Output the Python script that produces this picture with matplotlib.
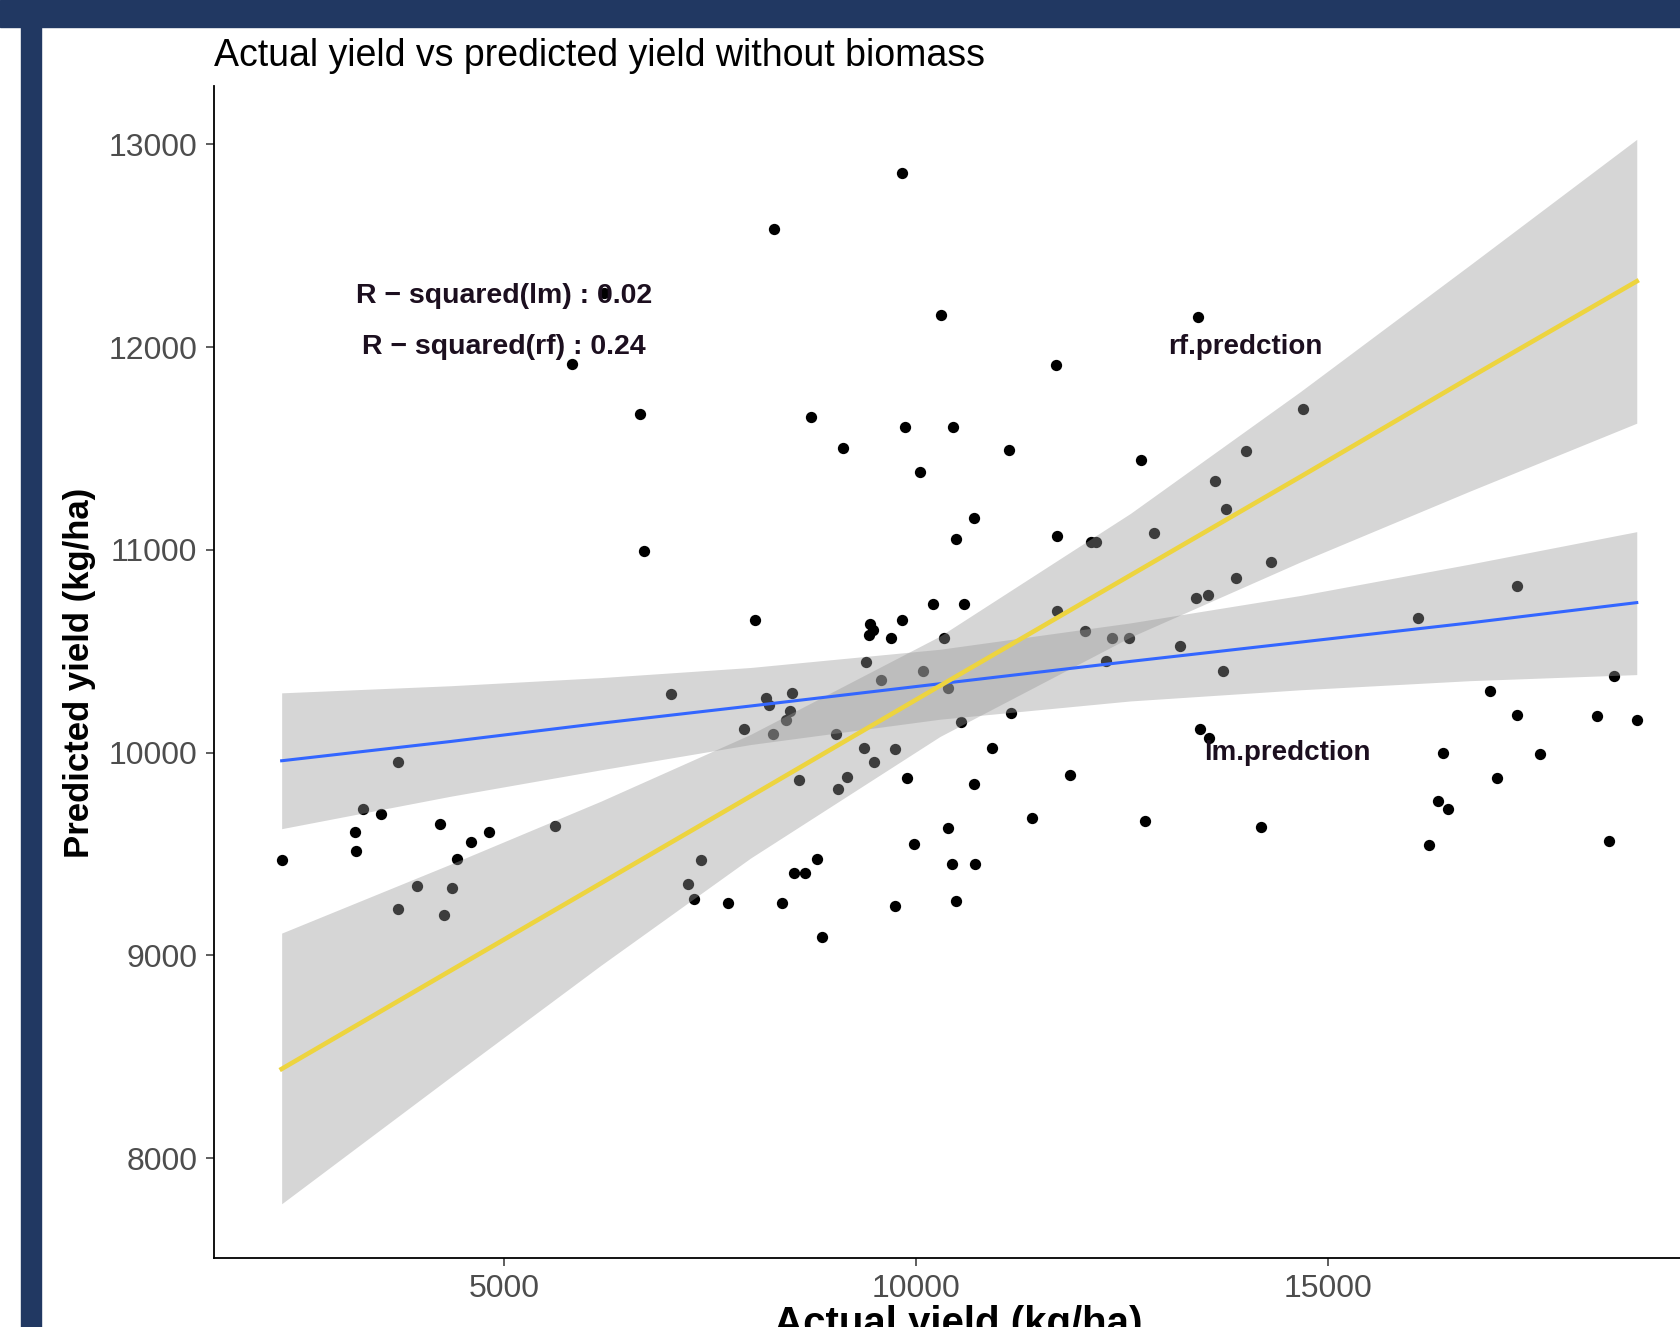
import matplotlib
matplotlib.use("Agg")
import matplotlib.pyplot as plt
from matplotlib.patches import Rectangle

plt.rcParams["font.family"] = ["Liberation Sans", "DejaVu Sans"]

actual_yield = [
	2301, 3187, 3199, 3284, 3502, 3708, 3708, 3939, 4218, 4266,
	4363, 4424, 4594, 4812, 5613, 5824, 6214, 6644, 6692, 7023,
	7226, 7307, 7383, 7711, 8044, 8269, 7911, 8172, 8220, 8499,
	8463, 8426, 8257, 8372, 8523, 8651, 8578, 8724, 8802, 8863,
	9033, 9057, 9114, 9166, 9397, 9445, 9476, 9433, 9373, 9494,
	9579, 9700, 9749, 9749, 9829, 9827, 9869, 9894, 9979, 10051,
	10081, 10209, 10297, 10337, 10391, 10391, 10440, 10453, 10482, 10488,
	10543, 10585, 10701, 10707, 10719, 10925, 11131, 11152, 11405, 11701,
	11713, 11713, 11865, 12045, 12120, 12180, 12298, 12381, 12578, 12732,
	12781, 12884, 13197, 13393, 13419, 13442, 13545, 13549, 13624, 13727,
	13757, 13876, 13997, 14185, 14311, 14691, 16096, 16225, 16329, 16399,
	16452, 16962, 17048, 17296, 17296, 17572, 18259, 18412, 18469, 18745,
]
predicted_yield = [
	9469, 9607, 9513, 9720, 9696, 9952, 9227, 9343, 9646, 9200,
	9333, 9476, 9557, 9609, 9639, 11919, 12268, 11670, 10996, 10288,
	9350, 9279, 9469, 9259, 10653, 12585, 10115, 10268, 10233, 10293,
	10204, 10159, 10090, 9259, 9404, 9404, 9863, 11654, 9474, 9089,
	10090, 9819, 11501, 9878, 10446, 10633, 10606, 10579, 10021, 9952,
	10357, 10564, 10016, 9242, 12861, 10655, 11607, 9873, 9548, 11384,
	10401, 10734, 12157, 10564, 10320, 9627, 9449, 11607, 11052, 9269,
	10150, 10734, 11159, 9846, 9449, 10021, 11491, 10196, 9676, 11914,
	11067, 10697, 9890, 10602, 11041, 11041, 10450, 10565, 10565, 11445,
	9665, 11085, 10528, 10763, 12147, 10115, 10780, 10073, 11338, 10403,
	11201, 10861, 11490, 9633, 10941, 11696, 10665, 9543, 9762, 9998,
	9720, 10305, 9877, 10824, 10187, 9991, 10180, 9566, 10376, 10161,
]

# fitted lines and 95% bands, sampled along x
fit_x = [2300, 4350, 6170, 7990, 10290, 12600, 14660, 16720, 18745]
rf_fit = [8440, 8925, 9355, 9785, 10330, 10875, 11360, 11850, 12325]
rf_upper = [9110, 9450, 9760, 10090, 10575, 11180, 11780, 12405, 13025]
rf_lower = [7775, 8400, 8950, 9480, 10080, 10570, 10940, 11290, 11625]
lm_fit = [9960, 10055, 10145, 10230, 10340, 10450, 10545, 10640, 10740]
lm_upper = [10295, 10330, 10370, 10420, 10510, 10640, 10775, 10930, 11090]
lm_lower = [9625, 9785, 9915, 10040, 10165, 10255, 10310, 10355, 10385]

x_ticks = [5000, 10000, 15000]
y_ticks = [8000, 9000, 10000, 11000, 12000, 13000]

navy = "#213862"
text_dark = "#1c0f1f"

fig = plt.figure(figsize=(16.81, 13.27), dpi=100)
fig.patches.append(Rectangle((0, 1 - 27 / 1327), 1, 27 / 1327,
	transform=fig.transFigure, color=navy, zorder=0))
fig.patches.append(Rectangle((21 / 1681, 0), 20 / 1681, 1,
	transform=fig.transFigure, color=navy, zorder=0))

ax = fig.add_axes([214 / 1681, 1 - 1257.5 / 1327, 1490.5 / 1681, 1171.5 / 1327])
ax.set_facecolor("none")

ax.scatter(actual_yield, predicted_yield, s=66, color="black", linewidths=0, zorder=1)

ax.fill_between(fit_x, lm_lower, lm_upper, color="#999999", alpha=0.4, linewidth=0, zorder=2)
ax.fill_between(fit_x, rf_lower, rf_upper, color="#999999", alpha=0.4, linewidth=0, zorder=2)
ax.plot(fit_x, lm_fit, color="#3366FF", linewidth=2.2, zorder=3)
ax.plot(fit_x, rf_fit, color="#EDD43F", linewidth=3.3, zorder=3)

ax.text(5000, 12250, "R \u2212 squared(lm) : 0.02", fontsize=20.5, fontweight="bold",
	color=text_dark, ha="center", va="center", zorder=4)
ax.text(5000, 12000, "R \u2212 squared(rf) : 0.24", fontsize=20.5, fontweight="bold",
	color=text_dark, ha="center", va="center", zorder=4)
ax.text(14000, 12000, "rf.predction", fontsize=20, fontweight="bold",
	color=text_dark, ha="center", va="center", zorder=4)
ax.text(14500, 10000, "lm.predction", fontsize=20, fontweight="bold",
	color=text_dark, ha="center", va="center", zorder=4)

ax.set_xlim(1479, 19567)
ax.set_ylim(7510, 13288)
ax.set_xticks(x_ticks)
ax.set_yticks(y_ticks)
ax.spines["top"].set_visible(False)
ax.spines["right"].set_visible(False)
for side in ("left", "bottom"):
	ax.spines[side].set_linewidth(1.3)
	ax.spines[side].set_color("black")
ax.tick_params(axis="both", length=6, width=1.1, color="#333333",
	labelsize=23, labelcolor="#4d4d4d", pad=6)

fig.text(214 / 1681, 1 - 66 / 1327, "Actual yield vs predicted yield without biomass",
	fontsize=27, color="black", ha="left", va="baseline")
fig.text(80 / 1681, 1 - 673 / 1327, "Predicted yield (kg/ha)", fontsize=25,
	fontweight="bold", rotation=90, ha="center", va="center")
# the x title sits on the bottom edge of the canvas, as in the source image
fig.text(958 / 1681, 1 - 1305 / 1327, "Actual yield (kg/ha)", fontsize=29,
	fontweight="bold", ha="center", va="top")

fig.savefig("out.png", dpi=100, facecolor="white")
